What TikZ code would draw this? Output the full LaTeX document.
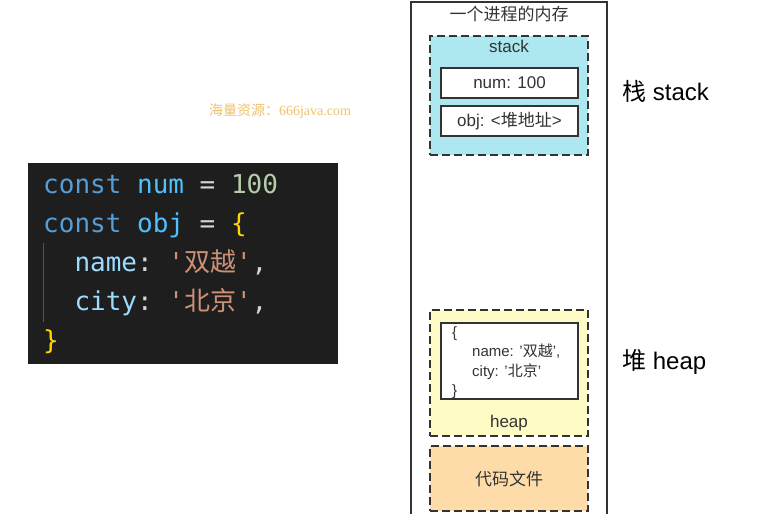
\documentclass[tikz,border=0pt]{standalone}
\usepackage{fontspec}
\setmainfont{Liberation Sans}
\setmonofont{DejaVu Sans Mono}
\newfontfamily\cjk{Noto Sans CJK SC}
\newfontfamily\wmserif{Liberation Serif}
\definecolor{edge}{HTML}{333333}
\definecolor{stackfill}{HTML}{ADE7F0}
\definecolor{heapfill}{HTML}{FFFBC4}
\definecolor{codefill}{HTML}{FDDCA9}
\definecolor{panel}{HTML}{1E1E1E}
\definecolor{kw}{HTML}{569CD6}
\definecolor{cv}{HTML}{4FC1FF}
\definecolor{prop}{HTML}{9CDCFE}
\definecolor{str}{HTML}{CE9178}
\definecolor{nm}{HTML}{B5CEA8}
\definecolor{op}{HTML}{D4D4D4}
\definecolor{brace}{HTML}{FFD700}
\definecolor{wm}{HTML}{EFC26A}
\tikzset{
  region/.style={draw=edge, line width=2pt, dash pattern=on 8pt off 4pt, inner sep=0pt},
  cell/.style={draw=edge, line width=2pt, fill=white, inner sep=0pt, minimum width=137pt},
  lbl/.style={font=\fontsize{17}{20}\selectfont, text=edge, inner sep=0pt},
  side/.style={font=\fontsize{24}{28}\selectfont, text=black, anchor=west, inner sep=0pt},
  code/.style={font=\ttfamily\fontsize{26}{39}\selectfont, anchor=base west, inner sep=0pt},
}
\begin{document}
\begin{tikzpicture}[x=1pt,y=-1pt]
\useasboundingbox[fill=white] (0,0) rectangle (769,514);
% outer memory box
\coordinate (ob1) at (411,516);
\coordinate (ob2) at (411,2);
\coordinate (ob3) at (607,2);
\coordinate (ob4) at (607,516);
\draw[edge, line width=2pt] (ob1) -- (ob2) -- (ob3) -- (ob4);
\node[lbl] (title) at (509,14) {\cjk 一个进程的内存};
% stack
\node[region, fill=stackfill, minimum width=158pt, minimum height=119pt] (stack) at (509,95.5) {};
\node[lbl] (stacklbl) at (509,46) {stack};
\node[cell, minimum height=30pt, lbl] (num) at (509.5,83) {num: 100};
\node[cell, minimum height=30pt, lbl] (obj) at (509.5,121) {obj: <{\cjk 堆地址}>};
\node[side] (stackside) at (622,91) {{\cjk 栈} stack};
% heap
\node[region, fill=heapfill, minimum width=158pt, minimum height=126pt] (heap) at (509,373) {};
\node[cell, minimum height=76pt] (heapobj) at (509.5,361) {};
\node[lbl, anchor=north west, align=left, font=\fontsize{15}{19.5}\selectfont] (heaptxt) at (452,326)
  {\{\\\hspace*{20pt}name: '{\cjk 双越}',\\\hspace*{20pt}city: '{\cjk 北京}'\\\}};
\node[lbl] (heaplbl) at (509,423) {heap};
\node[side] (heapside) at (622,362) {{\cjk 堆} heap};
% code file
\node[region, fill=codefill, minimum width=158pt, minimum height=65pt, lbl] (codefile) at (509,478.5) {\cjk 代码文件};
% watermark
\node[inner sep=0pt, text=wm, font=\fontsize{14}{16}\selectfont] (wmark) at (280,111) {{\cjk 海量资源：}{\wmserif 666java.com}};
% code panel
\node[fill=panel, minimum width=310pt, minimum height=201pt, inner sep=0pt] (panel) at (183,263.5) {};
\coordinate (g1) at (43,243);
\coordinate (g2) at (43,322);
\draw[color=op!30!panel, line width=1pt] (g1) -- (g2);
\node[code] (l1) at (43,193) {\textcolor{kw}{const} \textcolor{cv}{num} \textcolor{op}{=} \textcolor{nm}{100}};
\node[code] (l2) at (43,232) {\textcolor{kw}{const} \textcolor{cv}{obj} \textcolor{op}{=} \textcolor{brace}{\{}};
\node[code] (l3) at (43,271) {\ \ \textcolor{prop}{name}\textcolor{op}{:} \textcolor{str}{'{\cjk 双越}'}\textcolor{op}{,}};
\node[code] (l4) at (43,310) {\ \ \textcolor{prop}{city}\textcolor{op}{:} \textcolor{str}{'{\cjk 北京}'}\textcolor{op}{,}};
\node[code] (l5) at (43,349) {\textcolor{brace}{\}}};
\end{tikzpicture}
\end{document}
